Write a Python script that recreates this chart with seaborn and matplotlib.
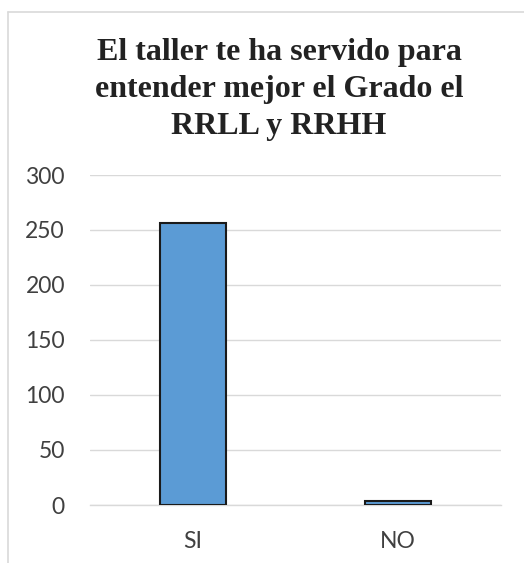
import matplotlib
matplotlib.use("Agg")
import matplotlib.pyplot as plt
import seaborn as sns
from matplotlib.lines import Line2D

categories = ["SI", "NO"]
values = [256, 4]
y_ticks = [0, 50, 100, 150, 200, 250, 300]
title = "El taller te ha servido para\nentender mejor el Grado el\nRRLL y RRHH"

sns.set_style("white")
plt.rcParams["font.family"] = ["Lato", "DejaVu Sans"]

W, H = 524, 563
fig = plt.figure(figsize=(W / 100, H / 100), dpi=100)
ax = fig.add_axes([90 / W, 1 - 505 / H, (501 - 90) / W, (505 - 175) / H])

sns.barplot(x=categories, y=values, ax=ax, color="#5B9BD5", saturation=1,
            edgecolor="#1a1a1a", linewidth=1.5, width=0.32, errorbar=None, zorder=3)

ax.set_ylim(0, 300)
ax.set_yticks(y_ticks)
ax.grid(axis="y", color="#d9d9d9", linewidth=1.0, zorder=0)
ax.set_axisbelow(True)
for side in ["left", "right", "top"]:
    ax.spines[side].set_visible(False)
ax.spines["bottom"].set_color("#d9d9d9")
ax.spines["bottom"].set_linewidth(1.0)
ax.tick_params(axis="both", length=0, labelsize=16.5, labelcolor="#404040")
ax.tick_params(axis="y", pad=18)
ax.tick_params(axis="x", pad=19)
ax.set_xlabel("")
ax.set_ylabel("")

fig.text(279 / W, 1 - 38 / H, title, ha="center", va="top", fontsize=23,
         fontweight="bold", family="Liberation Serif", color="#222222", linespacing=1.36)

# outer chart frame (left and top edges visible)
fig.add_artist(Line2D([7.5 / W, 7.5 / W], [0, 1 - 11.5 / H], transform=fig.transFigure,
                      color="#d9d9d9", linewidth=1.2))
fig.add_artist(Line2D([7.5 / W, 1], [1 - 11.5 / H, 1 - 11.5 / H], transform=fig.transFigure,
                      color="#d9d9d9", linewidth=1.2))

fig.savefig("out.png", dpi=100)
